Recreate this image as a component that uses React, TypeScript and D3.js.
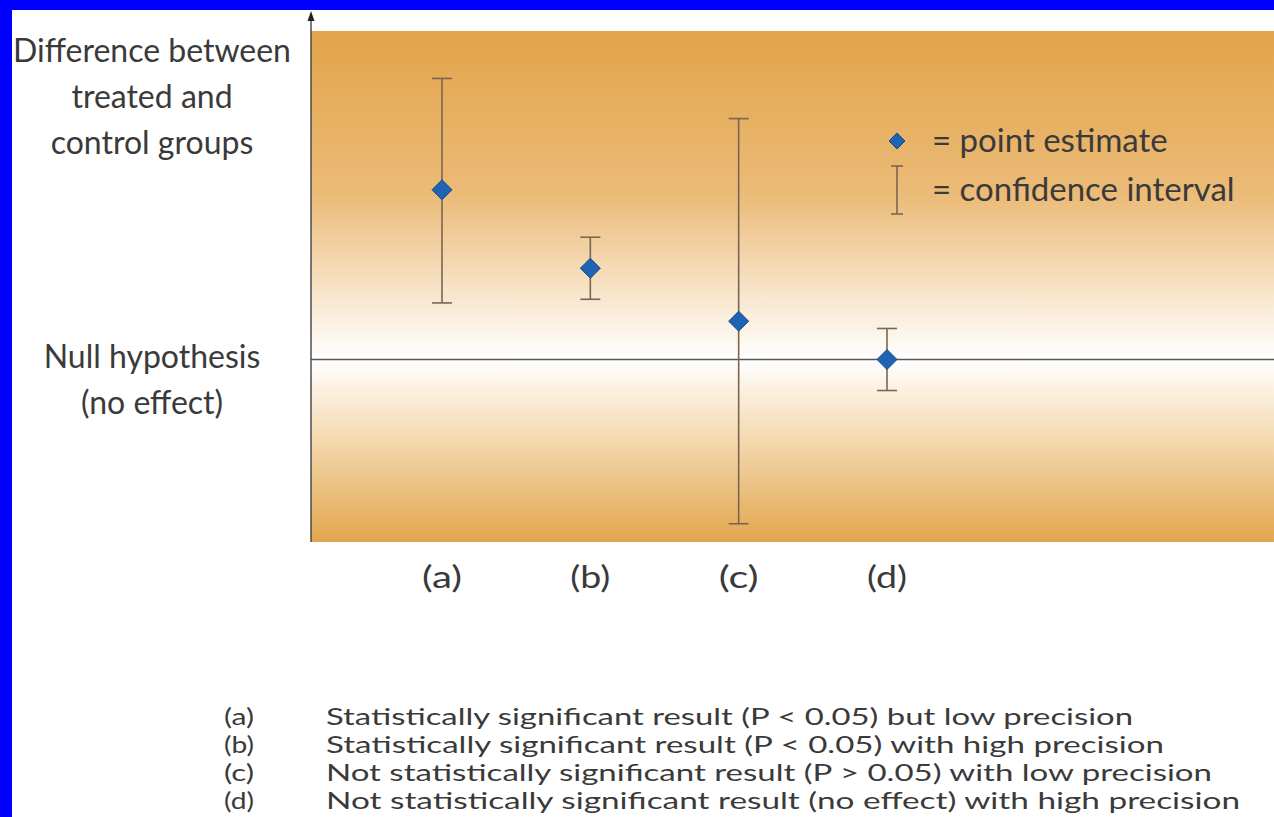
import { useMemo } from "react";
import * as d3 from "d3";

const width = 1274;
const height = 817;
const plot = { left: 311, right: 1274, top: 31, bottom: 542 };

// categories and their estimates / confidence limits (null hypothesis = 0)
const categories = ["(a)", "(b)", "(c)", "(d)"];
const estimates = [0.93, 0.5, 0.21, 0];
const lowerCI = [0.31, 0.33, -0.9, -0.17];
const upperCI = [1.54, 0.67, 1.32, 0.17];

const yLabelLines = ["Difference between", "treated and", "control groups"];
const nullLabelLines = ["Null hypothesis", "(no effect)"];
const footnoteKeys = ["(a)", "(b)", "(c)", "(d)"];
const footnotes = [
  "Statistically significant result (P < 0.05) but low precision",
  "Statistically significant result (P < 0.05) with high precision",
  "Not statistically significant result (P > 0.05) with low precision",
  "Not statistically significant result (no effect) with high precision",
];
const footnoteWidths = [807, 838, 886, 914];

const font = "Lato, 'Open Sans', sans-serif";
const textColor = "#3a3a3a";
const ciColor = "#7a6650";
const diamond = (cx: number, cy: number, r: number) =>
  `M${cx},${cy - r}L${cx + r},${cy}L${cx},${cy + r}L${cx - r},${cy}Z`;

const App = () => {
  const { xScale, yScale } = useMemo(() => {
    const xScale = d3.scalePoint<string>().domain(categories).range([442, 887]);
    const yScale = d3
      .scaleLinear()
      .domain([-1, 1.8])
      .range([plot.bottom, plot.top]);
    return { xScale, yScale };
  }, []);

  const y0 = yScale(0);
  const nullStop = (y0 - plot.top) / (plot.bottom - plot.top);

  return (
    <svg
      width={width}
      height={height}
      style={{ position: "absolute", left: 0, top: 0 }}
      fontFamily={font}
    >
      <defs>
        <linearGradient id="bg" x1="0" y1="0" x2="0" y2="1">
          <stop offset="0" stopColor="#e2a44a" />
          <stop offset={nullStop * 0.5} stopColor="#ebbb78" />
          <stop offset={nullStop * 0.85} stopColor="#faecd8" />
          <stop offset={nullStop} stopColor="#ffffff" />
          <stop offset={nullStop + (1 - nullStop) * 0.4} stopColor="#f5dcb6" />
          <stop offset="1" stopColor="#e2a64e" />
        </linearGradient>
      </defs>
      <rect width={width} height={height} fill="#0000ff" />
      <rect x={12} y={10} width={width - 12} height={height - 10} fill="#ffffff" />

      <rect
        x={plot.left}
        y={plot.top}
        width={plot.right - plot.left}
        height={plot.bottom - plot.top}
        fill="url(#bg)"
      />

      {/* axis */}
      <line x1={plot.left} x2={plot.left} y1={18} y2={plot.bottom} stroke="#333" strokeWidth={1.3} />
      <path d={`M${plot.left},11L${plot.left + 3.5},21L${plot.left - 3.5},21Z`} fill="#222" />
      <line x1={plot.left} x2={plot.right} y1={y0} y2={y0} stroke="#555" strokeWidth={1.3} />

      {/* confidence intervals */}
      {categories.map((c, i) => {
        const x = xScale(c)!;
        return (
          <g key={c} stroke={ciColor} strokeWidth={1.6}>
            <line x1={x} x2={x} y1={yScale(upperCI[i])} y2={yScale(lowerCI[i])} />
            <line x1={x - 10} x2={x + 10} y1={yScale(upperCI[i])} y2={yScale(upperCI[i])} />
            <line x1={x - 10} x2={x + 10} y1={yScale(lowerCI[i])} y2={yScale(lowerCI[i])} />
          </g>
        );
      })}

      {/* point estimates */}
      {categories.map((c, i) => (
        <path
          key={c}
          d={diamond(xScale(c)!, yScale(estimates[i]), 10)}
          fill="#1f63b4"
          stroke="#164a86"
          strokeWidth={1}
        />
      ))}

      {/* category labels */}
      {categories.map((c) => (
        <text
          key={c}
          x={xScale(c)!}
          y={588}
          textAnchor="middle"
          fontSize={31}
          fill={textColor}
          textLength={40}
          lengthAdjust="spacingAndGlyphs"
        >
          {c}
        </text>
      ))}

      {/* legend */}
      <path d={diamond(897, 141, 8)} fill="#1f63b4" stroke="#164a86" strokeWidth={1} />
      <text x={932} y={152} fontSize={33} fill={textColor}>
        = point estimate
      </text>
      <g stroke={ciColor} strokeWidth={1.6}>
        <line x1={897} x2={897} y1={166} y2={214} />
        <line x1={891} x2={903} y1={166} y2={166} />
        <line x1={891} x2={903} y1={214} y2={214} />
      </g>
      <text x={932} y={201} fontSize={33} fill={textColor}>
        = confidence interval
      </text>

      {/* left labels */}
      {yLabelLines.map((t, i) => (
        <text key={t} x={152} y={62 + i * 46} textAnchor="middle" fontSize={32} fill={textColor}>
          {t}
        </text>
      ))}
      {nullLabelLines.map((t, i) => (
        <text key={t} x={152} y={368 + i * 46} textAnchor="middle" fontSize={32} fill={textColor}>
          {t}
        </text>
      ))}

      {/* footnotes */}
      {footnotes.map((t, i) => (
        <g key={t}>
          <text
            x={224}
            y={725 + i * 28}
            fontSize={23.5}
            fill={textColor}
            textLength={30}
            lengthAdjust="spacingAndGlyphs"
          >
            {footnoteKeys[i]}
          </text>
          <text
            x={326}
            y={725 + i * 28}
            fontSize={23.5}
            fill={textColor}
            textLength={footnoteWidths[i]}
            lengthAdjust="spacingAndGlyphs"
          >
            {t}
          </text>
        </g>
      ))}
    </svg>
  );
};

export default App;
